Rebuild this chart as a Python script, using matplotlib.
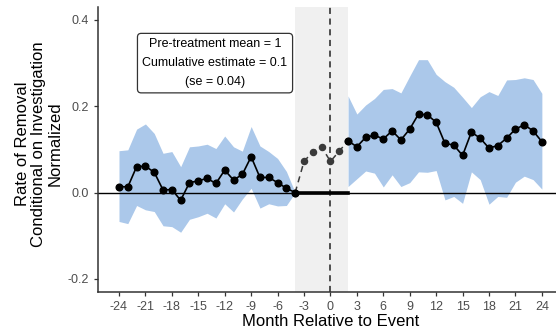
import numpy as np
import matplotlib.pyplot as plt

plt.rcParams['font.family'] = ['Liberation Sans', 'DejaVu Sans']

# pre-period estimates (months -24..-4)
pre_month = list(range(-24, -3))
pre_est = [0.014, 0.013, 0.060, 0.061, 0.047, 0.006, 0.007, -0.018, 0.023, 0.027, 0.033,
           0.021, 0.052, 0.029, 0.042, 0.083, 0.035, 0.035, 0.023, 0.010, 0.0]
pre_hi = [0.097, 0.099, 0.147, 0.159, 0.137, 0.091, 0.095, 0.060, 0.106, 0.108, 0.112,
          0.102, 0.131, 0.106, 0.096, 0.153, 0.108, 0.095, 0.079, 0.049, 0.0]
pre_lo = [-0.067, -0.072, -0.030, -0.040, -0.044, -0.077, -0.079, -0.092, -0.062, -0.056, -0.048,
          -0.059, -0.026, -0.045, -0.015, 0.010, -0.036, -0.026, -0.031, -0.030, 0.0]

# transition months (-4..2), dashed
mid_month = [-4, -3, -2, -1, 0, 1, 2]
mid_est = [0.0, 0.072, 0.095, 0.106, 0.072, 0.096, 0.120]

# post-period estimates (months 2..24)
post_month = list(range(2, 25))
post_est = [0.120, 0.106, 0.128, 0.133, 0.124, 0.143, 0.122, 0.147, 0.182, 0.180, 0.163, 0.114,
            0.110, 0.086, 0.140, 0.126, 0.103, 0.109, 0.126, 0.147, 0.157, 0.143, 0.118]
post_hi = [0.224, 0.182, 0.203, 0.218, 0.239, 0.241, 0.231, 0.270, 0.308, 0.308, 0.274, 0.257,
           0.244, 0.221, 0.197, 0.222, 0.234, 0.225, 0.261, 0.262, 0.266, 0.262, 0.230]
post_lo = [0.014, 0.032, 0.050, 0.045, 0.013, 0.041, 0.014, 0.023, 0.048, 0.047, 0.051, -0.017,
           -0.009, -0.025, 0.048, 0.030, -0.027, -0.009, -0.011, 0.024, 0.038, 0.030, 0.008]

xticks = list(range(-24, 25, 3))
yticks = [-0.2, 0.0, 0.2, 0.4]

fig = plt.figure(figsize=(5.56, 3.35), dpi=100)
ax = fig.add_axes([0.176, 0.129, 0.8366, 0.85])

blue = '#abc8ea'
ax.axvspan(-4, 2, color='#f0f0f0', lw=0, zorder=0)
ax.fill_between(pre_month, pre_lo, pre_hi, color=blue, lw=0, zorder=1)
ax.fill_between(post_month, post_lo, post_hi, color=blue, lw=0, zorder=1)
ax.axhline(0, color='black', lw=1.0, zorder=2)
ax.plot([-4, 2], [0, 0], color='black', lw=2.6, zorder=3)
ax.axvline(0, color='#222222', lw=1.1, ls=(0, (4, 3)), zorder=2)

ax.plot(mid_month, mid_est, color='#3a3a3a', lw=1.1, ls=(0, (4, 3)),
        marker='o', ms=4.4, zorder=4)
ax.plot(pre_month, pre_est, color='black', lw=1.2, marker='o', ms=4.8, zorder=5)
ax.plot(post_month, post_est, color='black', lw=1.2, marker='o', ms=4.8, zorder=5)

ax.text(-13.1, 0.300, 'Pre-treatment mean = 1\nCumulative estimate = 0.1\n(se = 0.04)',
        ha='center', va='center', fontsize=9, linespacing=1.75, color='black',
        bbox=dict(boxstyle='round,pad=0.4,rounding_size=0.3', fc='white', ec='#333333', lw=0.9),
        zorder=6)

ax.set_xlim(-26.4, 26.4)
ax.set_ylim(-0.23, 0.43)
ax.set_xticks(xticks)
ax.set_xticklabels([str(t) for t in xticks])
ax.set_yticks(yticks)
ax.set_yticklabels(['-0.2', '0.0', '0.2', '0.4'])
ax.tick_params(axis='both', colors='#333333', labelcolor='#4d4d4d', labelsize=9,
               length=3, width=0.9, direction='out')
for s in ['top', 'right']:
    ax.spines[s].set_visible(False)
for s in ['left', 'bottom']:
    ax.spines[s].set_color('#333333')
    ax.spines[s].set_linewidth(1.1)

ax.set_xlabel('Month Relative to Event', fontsize=12, labelpad=1)
ax.set_ylabel('Rate of Removal\nConditional on Investigation\nNormalized', fontsize=12,
              linespacing=1.1)
ax.yaxis.set_label_coords(-0.076, 0.52)

fig.savefig('out.png', dpi=100)
